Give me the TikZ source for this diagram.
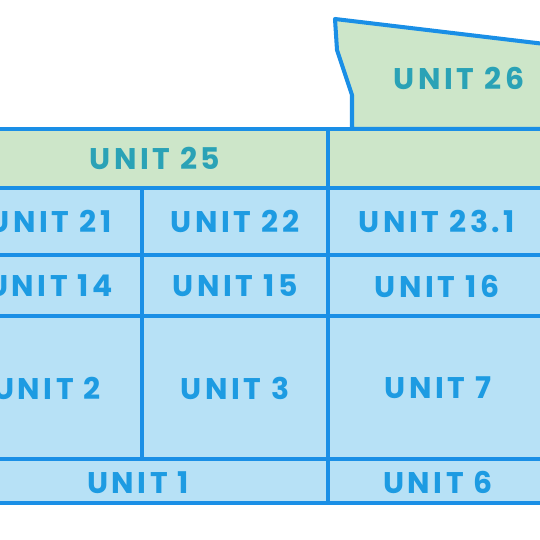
\documentclass[tikz,border=0pt]{standalone}
\usepackage{fontspec}
\setmainfont{Poppins}[LetterSpace=12]
\definecolor{wallblue}{HTML}{1A8FE6}
\definecolor{roomblue}{HTML}{B7E1F6}
\definecolor{roomgreen}{HTML}{CDE6C9}
\definecolor{txtblue}{HTML}{1D9BE2}
\definecolor{txtteal}{HTML}{2AA2B6}
\tikzset{
  % --- rooms ------------------------------------------------
  roomb/.style={draw=wallblue, fill=roomblue, line width=2.3pt, line join=round},
  roomg/.style={draw=wallblue, fill=roomgreen, line width=2.3pt, line join=round},
  % --- labels -----------------------------------------------
  unitb/.style={font=\fontsize{17}{17}\selectfont\bfseries, text=txtblue, inner sep=0pt},
  unitg/.style={font=\fontsize{17}{17}\selectfont\bfseries, text=txtteal, inner sep=0pt}
}
\begin{document}
\begin{tikzpicture}[x=0.02cm, y=-0.02cm]

  \useasboundingbox (0,0) rectangle (540,540);
  \clip (0,0) rectangle (540,540);

  % --- Upper floor --------------------------------------------
  \draw[roomg] (335,19) -- (570,47) -- (570,129) -- (352,129) -- (352,95) -- (337,50) -- cycle;
  \node[unitg] (u26) at (459,78) {UNIT 26};

  % --- Row 25 ---------------------------------------------------
  \draw[roomg] (-18,129) rectangle (328,188);
  \draw[roomg] (328,129) rectangle (570,188);
  \node[unitg] (u25) at (155,158) {UNIT 25};

  % --- Rows of units --------------------------------------------
  \draw[roomb] (-42,188) rectangle (142,255);
  \draw[roomb] (142,188) rectangle (328,255);
  \draw[roomb] (328,188) rectangle (570,255);
  \node[unitb] (u21) at (50,221) {UNIT 21};
  \node[unitb] (u22) at (235,221) {UNIT 22};
  \node[unitb] (u231) at (437,221) {UNIT 23.1};

  \draw[roomb] (-42,255) rectangle (142,316);
  \draw[roomb] (142,255) rectangle (328,316);
  \draw[roomb] (328,255) rectangle (570,316);
  \node[unitb] (u14) at (50,286) {UNIT 14};
  \node[unitb] (u15) at (235,286) {UNIT 15};
  \node[unitb] (u16) at (437,286) {UNIT 16};

  \draw[roomb] (-42,316) rectangle (142,459);
  \draw[roomb] (142,316) rectangle (328,459);
  \draw[roomb] (328,316) rectangle (570,459);
  \node[unitb] (u2) at (47,388) {UNIT 2};
  \node[unitb] (u3) at (235,388) {UNIT 3};
  \node[unitb] (u7) at (438,388) {UNIT 7};

  % --- Ground row -----------------------------------------------
  \draw[roomb] (-52,459) rectangle (328,503);
  \draw[roomb] (328,459) rectangle (570,503);
  \node[unitb] (u1) at (138,483) {UNIT 1};
  \node[unitb] (u6) at (438,482) {UNIT 6};

\end{tikzpicture}
\end{document}
